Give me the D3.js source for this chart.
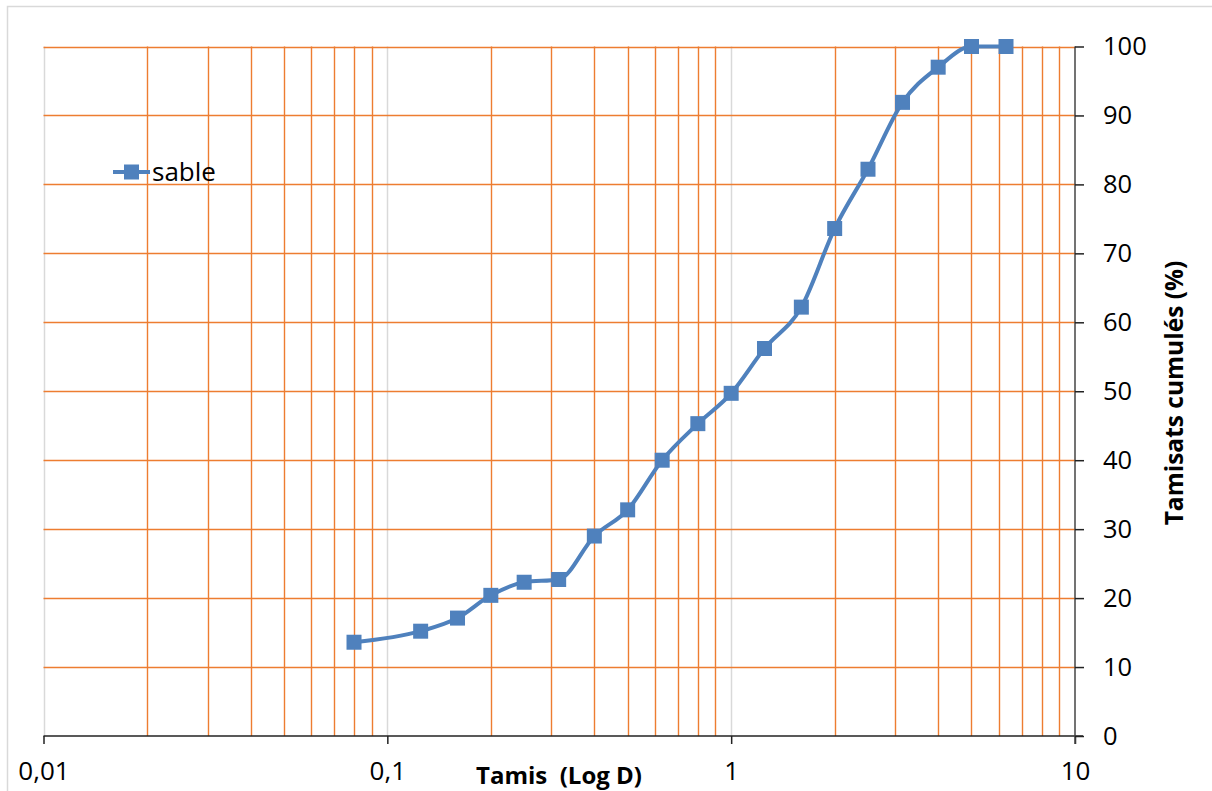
<!DOCTYPE html>
<html>
<head>
<meta charset="utf-8">
<script src="https://cdn.jsdelivr.net/npm/d3@7"></script>
<style>
  body { margin: 0; background: #fff; }
  svg { font-family: "Open Sans", sans-serif; }
</style>
</head>
<body>
<svg id="chart" width="1212" height="791"></svg>
<script>
// sieve sizes (mm) and cumulative passing (%)
var tamis = [0.08, 0.125, 0.16, 0.2, 0.25, 0.315, 0.4, 0.5, 0.63, 0.8, 1, 1.25, 1.6, 2, 2.5, 3.15, 4, 5, 6.3];
var sable = [13.6, 15.2, 17.1, 20.4, 22.3, 22.7, 29.0, 32.8, 40.0, 45.3, 49.7, 56.2, 62.2, 73.6, 82.2, 91.9, 97.0, 100, 100];
var xTicks = [0.01, 0.1, 1, 10];
var xTickLabels = ["0,01", "0,1", "1", "10"];
var yTicks = [0, 10, 20, 30, 40, 50, 60, 70, 80, 90, 100];
var seriesName = "sable";

var svg = d3.select("#chart");
var mLeft = 43.5, mRight = 1075, mTop = 46.5, mBottom = 736;
var orange = "#ED7D31", blue = "#4F81BD";

svg.append("rect")
  .attr("x", 7.5).attr("y", 6.5).attr("width", 1210).attr("height", 790)
  .attr("fill", "none").attr("stroke", "#d9d9d9").attr("stroke-width", 1.5);

var x = d3.scaleLog().domain([0.01, 10]).range([mLeft, mRight]);
var y = d3.scaleLinear().domain([0, 100]).range([mBottom, mTop]);

// minor vertical grid (2..9 in each decade)
var minor = [];
[0.01, 0.1, 1].forEach(function (d) {
  for (var k = 2; k <= 9; k++) minor.push(d * k);
});
svg.append("g").selectAll("line").data([0.01, 0.1, 1]).join("line")
  .attr("x1", d => Math.round(x(d)) + 0.5).attr("x2", d => Math.round(x(d)) + 0.5)
  .attr("y1", mTop).attr("y2", mBottom)
  .attr("stroke", "#d9d9d9").attr("stroke-width", 1.5);
svg.append("g").selectAll("line").data(minor).join("line")
  .attr("x1", d => Math.round(x(d)) + 0.5).attr("x2", d => Math.round(x(d)) + 0.5)
  .attr("y1", mTop).attr("y2", mBottom)
  .attr("stroke", orange).attr("stroke-width", 1.4);
svg.append("g").selectAll("line").data(yTicks.slice(1)).join("line")
  .attr("x1", mLeft).attr("x2", mRight)
  .attr("y1", d => Math.round(y(d)) + 0.5).attr("y2", d => Math.round(y(d)) + 0.5)
  .attr("stroke", orange).attr("stroke-width", 1.4);

// x axis
var xAxis = svg.append("g").attr("transform", "translate(0," + mBottom + ")")
  .call(d3.axisBottom(x).tickValues(xTicks).tickSize(8).tickFormat((d, i) => xTickLabels[i]));
xAxis.select(".domain").attr("stroke", "#222").attr("stroke-width", 1.5)
  .attr("d", "M" + mLeft + ",0H" + (mRight + 8));
xAxis.selectAll(".tick line").attr("stroke", "#222").attr("stroke-width", 1.5);
xAxis.selectAll(".tick text").attr("font-family", "Open Sans").attr("font-size", 26)
  .attr("fill", "#000").attr("y", 26);

// y axis on the right
var yAxis = svg.append("g").attr("transform", "translate(" + mRight + ",0)")
  .call(d3.axisRight(y).tickValues(yTicks).tickSize(9).tickFormat(d3.format("d")));
yAxis.select(".domain").attr("stroke", "#444").attr("stroke-width", 1.5)
  .attr("d", "M0," + mTop + "V" + (mBottom + 8));
yAxis.selectAll(".tick line").attr("stroke", "#222").attr("stroke-width", 1.5);
yAxis.selectAll(".tick text").attr("font-family", "Open Sans").attr("font-size", 25.5)
  .attr("fill", "#000").attr("x", 28);

// axis titles
svg.append("text").attr("x", 559).attr("y", 784).attr("text-anchor", "middle")
  .attr("font-size", 24).attr("font-weight", "bold").attr("fill", "#000")
  .attr("xml:space", "preserve").text("Tamis  (Log D)");
svg.append("text").attr("transform", "translate(1183,393) rotate(-90)")
  .attr("text-anchor", "middle").attr("font-size", 24.5).attr("font-weight", "bold")
  .attr("fill", "#000").text("Tamisats cumulés (%)");

// series
var pts = tamis.map((d, i) => [d, sable[i]]);
svg.append("path").datum(pts)
  .attr("fill", "none").attr("stroke", blue).attr("stroke-width", 4)
  .attr("d", d3.line().x(d => x(d[0])).y(d => y(d[1])).curve(d3.curveMonotoneX));
svg.append("g").selectAll("rect").data(pts).join("rect")
  .attr("x", d => x(d[0]) - 7.5).attr("y", d => y(d[1]) - 7.5)
  .attr("width", 15).attr("height", 15).attr("fill", blue);

// legend
var lg = svg.append("g").attr("transform", "translate(113,172)");
lg.append("line").attr("x1", 0).attr("x2", 37).attr("stroke", blue).attr("stroke-width", 4);
lg.append("rect").attr("x", 11).attr("y", -7.5).attr("width", 15).attr("height", 15).attr("fill", blue);
lg.append("text").attr("x", 39).attr("y", 9).attr("font-size", 26).attr("fill", "#000").text(seriesName);
</script>
</body>
</html>
